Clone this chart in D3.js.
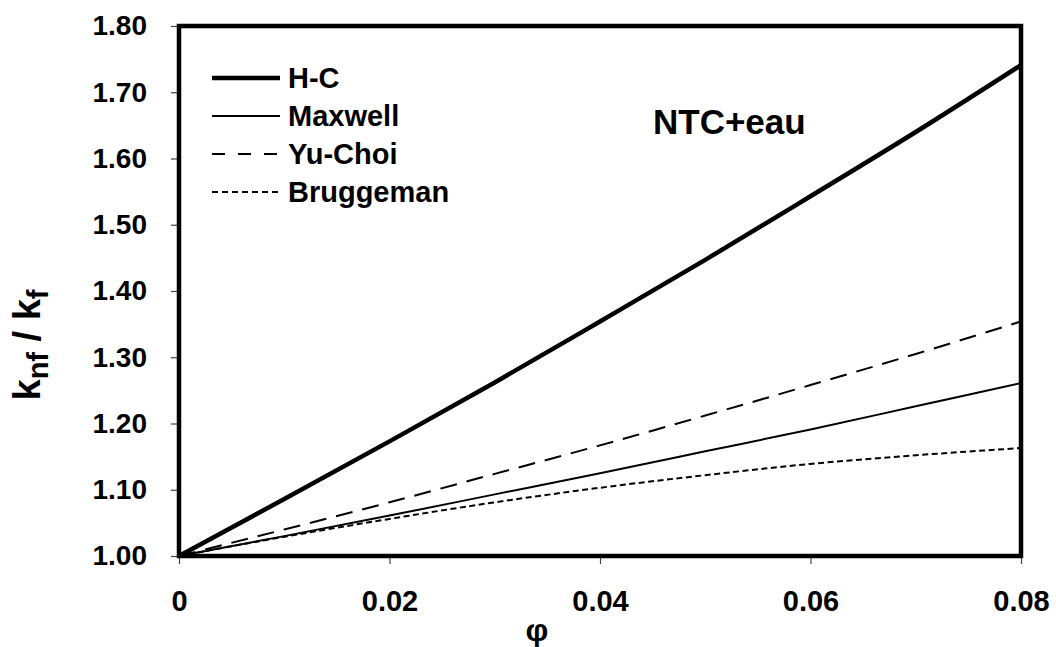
<!DOCTYPE html>
<html>
<head>
<meta charset="utf-8">
<script src="https://cdn.jsdelivr.net/npm/d3@7"></script>
<style>
  body { margin: 0; background: #fff; }
  text { font-family: Arial, "Liberation Sans", sans-serif; font-weight: bold; fill: #000; }
</style>
</head>
<body>
<div id="chart"></div>
<script>
// volume fraction
var phi = [0, 0.01, 0.02, 0.03, 0.04, 0.05, 0.06, 0.07, 0.08];
// k_nf / k_f for each model
var hc = [1.000, 1.086, 1.173, 1.262, 1.354, 1.447, 1.543, 1.640, 1.741];
var maxwell = [1.000, 1.030, 1.061, 1.093, 1.125, 1.158, 1.191, 1.226, 1.261];
var yuChoi = [1.000, 1.040, 1.081, 1.124, 1.167, 1.212, 1.258, 1.305, 1.354];
var bruggeman = [1.000, 1.029, 1.056, 1.081, 1.103, 1.122, 1.139, 1.152, 1.163];

var seriesNames = ["H-C", "Maxwell", "Yu-Choi", "Bruggeman"];
var xTicks = [0, 0.02, 0.04, 0.06, 0.08];
var xTickLabels = ["0", "0.02", "0.04", "0.06", "0.08"];
var yTicks = [1.0, 1.1, 1.2, 1.3, 1.4, 1.5, 1.6, 1.7, 1.8];

var W = 1056, H = 647;
var margin = { top: 26, left: 179, right: 35, bottom: 91 },
    width = W - margin.left - margin.right,
    height = H - margin.top - margin.bottom;

var svg = d3.select("#chart").append("svg")
    .attr("width", W)
    .attr("height", H);

svg.append("rect").attr("width", W).attr("height", H).attr("fill", "#fff");

var canvas = svg.append("g")
    .attr("transform", "translate(" + margin.left + "," + margin.top + ")");

var xScale = d3.scaleLinear().domain([0, 0.08]).range([0, width]);
var yScale = d3.scaleLinear().domain([1.0, 1.8]).range([height, 0]);

var xAxis = d3.axisBottom(xScale)
    .tickValues(xTicks)
    .tickFormat(function (d, i) { return xTickLabels[i]; })
    .tickSize(8)
    .tickPadding(26);

var yAxis = d3.axisLeft(yScale)
    .tickValues(yTicks)
    .tickFormat(d3.format(".2f"))
    .tickSize(8)
    .tickPadding(24);

var xg = canvas.append("g")
    .attr("transform", "translate(0," + height + ")")
    .call(xAxis);
xg.selectAll("text").attr("font-size", 29);

var yg = canvas.append("g").call(yAxis);
yg.selectAll("text").attr("font-size", 28);

[xg, yg].forEach(function (g) {
    g.select(".domain").remove();
    g.selectAll(".tick line").attr("stroke", "#444").attr("stroke-width", 1.2);
});

var styles = {
    "H-C": { width: 4.5, dash: null, data: hc },
    "Maxwell": { width: 2, dash: null, data: maxwell },
    "Yu-Choi": { width: 2, dash: "17,10", data: yuChoi },
    "Bruggeman": { width: 2, dash: "6,3.5", data: bruggeman }
};

var line = d3.line()
    .x(function (d) { return xScale(d[0]); })
    .y(function (d) { return yScale(d[1]); })
    .curve(d3.curveMonotoneX);

seriesNames.slice().reverse().forEach(function (name) {
    var s = styles[name];
    canvas.append("path")
        .datum(phi.map(function (p, i) { return [p, s.data[i]]; }))
        .attr("fill", "none")
        .attr("stroke", "#000")
        .attr("stroke-width", s.width)
        .attr("stroke-dasharray", s.dash)
        .attr("d", line);
});

// plot frame
canvas.append("rect")
    .attr("width", width)
    .attr("height", height)
    .attr("fill", "none")
    .attr("stroke", "#000")
    .attr("stroke-width", 4.5);

// legend
var legend = svg.selectAll(".legend")
    .data(seriesNames)
    .enter().append("g")
    .attr("class", "legend")
    .attr("transform", function (d, i) { return "translate(212," + (78 + i * 38) + ")"; });

legend.append("line")
    .attr("x1", 0).attr("x2", 68)
    .attr("stroke", "#000")
    .attr("stroke-width", function (d) { return d === "H-C" ? 4.5 : 2; })
    .attr("stroke-dasharray", function (d) { return d === "Yu-Choi" ? "13,13" : d === "Bruggeman" ? "6,4" : null; });

legend.append("text")
    .attr("x", 76)
    .attr("y", 10)
    .attr("font-size", 29)
    .text(function (d) { return d; });

// annotation
svg.append("text")
    .attr("x", 653)
    .attr("y", 134)
    .attr("font-size", 35)
    .text("NTC+eau");

// axis titles
svg.append("text")
    .attr("x", 537)
    .attr("y", 641)
    .attr("text-anchor", "middle")
    .attr("font-size", 32)
    .text("φ");

var yl = svg.append("text")
    .attr("transform", "translate(40,345) rotate(-90)")
    .attr("text-anchor", "middle")
    .attr("font-size", 38);
yl.append("tspan").text("k");
yl.append("tspan").attr("font-size", 29).attr("dy", 8).text("nf");
yl.append("tspan").attr("dy", -8).text(" / k");
yl.append("tspan").attr("font-size", 29).attr("dy", 8).text("f");
</script>
</body>
</html>
